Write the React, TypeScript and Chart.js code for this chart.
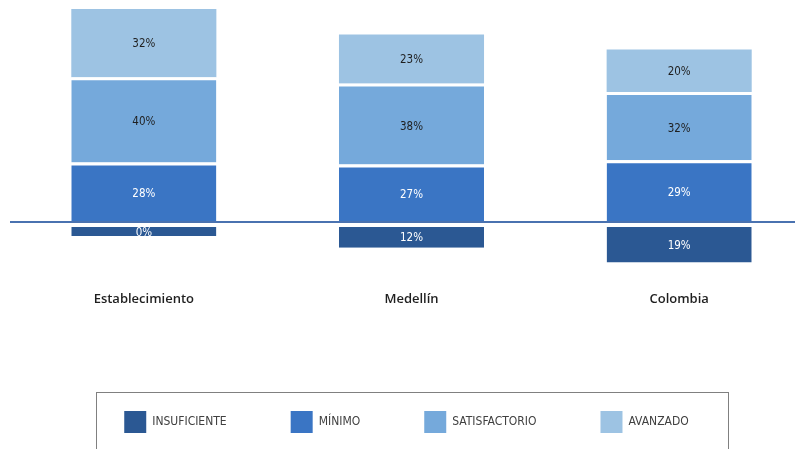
import React, { useEffect, useRef } from "react";
import { Chart, registerables } from "chart.js";

Chart.register(...registerables);

const categories = ["Establecimiento", "Medellín", "Colombia"];
const seriesNames = ["INSUFICIENTE", "MÍNIMO", "SATISFACTORIO", "AVANZADO"];
const insuficiente = [0.4, 12, 19];
const minimo = [28, 27, 29];
const satisfactorio = [40, 38, 32];
const avanzado = [32, 23, 20];
const seriesColors = ["#2B5893", "#3A75C4", "#75A9DB", "#9DC3E3"];
const labelColors = ["#FFFFFF", "#FFFFFF", "#1F1F1F", "#1F1F1F"];
const borderWidths = [
  { top: 4, bottom: 0, left: 0, right: 0 },
  { top: 3, bottom: 0, left: 0, right: 0 },
  { top: 3, bottom: 0, left: 0, right: 0 },
  { top: 0, bottom: 0, left: 0, right: 0 },
];

const COND = "'DejaVu Sans Condensed', 'DejaVu Sans', sans-serif";

const dataLabelPlugin = {
  id: "dataLabels",
  afterDatasetsDraw(chart: any) {
    const ctx = chart.ctx;
    ctx.save();
    ctx.font = `11.5px ${COND}`;
    ctx.textAlign = "center";
    ctx.textBaseline = "middle";
    chart.data.datasets.forEach((ds: any, di: number) => {
      const meta = chart.getDatasetMeta(di);
      meta.data.forEach((el: any, i: number) => {
        const { x, y, base } = el.getProps(["x", "y", "base"], true);
        const bw = borderWidths[di];
        const top = Math.min(y, base) + bw.top;
        const bottom = Math.max(y, base) - bw.bottom;
        const v = Math.round(Math.abs(ds.data[i]));
        ctx.fillStyle = labelColors[di];
        ctx.fillText(`${v}%`, x, (top + bottom) / 2 + 1);
      });
    });
    ctx.restore();
  },
};

const legendBoxPlugin = {
  id: "legendBox",
  afterLayout(chart: any) {
    if (chart.legend) {
      chart.legend.left -= 5;
      chart.legend.right -= 5;
    }
  },
  afterDraw(chart: any) {
    const ctx = chart.ctx;
    ctx.save();
    ctx.strokeStyle = "#808080";
    ctx.lineWidth = 1;
    ctx.strokeRect(88.5, 384.5, 632, 120);
    ctx.restore();
  },
};

export default function App() {
  const ref = useRef<HTMLCanvasElement>(null);
  useEffect(() => {
    if (!ref.current) return;
    const values = [insuficiente.map((v) => -v), minimo, satisfactorio, avanzado];
    const chart = new Chart(ref.current, {
      type: "bar",
      data: {
        labels: categories,
        datasets: values.map((d, i) => ({
          label: seriesNames[i],
          data: d,
          backgroundColor: seriesColors[i],
          borderColor: "#FFFFFF",
          borderWidth: borderWidths[i],
          borderSkipped: false,
          minBarLength: i === 0 ? 14 : 0,
          barPercentage: 0.542,
          categoryPercentage: 1,
        })),
      },
      options: {
        responsive: false,
        animation: false,
        layout: { padding: { top: 1, bottom: 6, left: 2, right: 0 } },
        plugins: {
          tooltip: { enabled: false },
          legend: {
            position: "bottom",
            labels: {
              boxWidth: 22,
              boxHeight: 22,
              padding: 64,
              color: "#404040",
              font: { family: COND, size: 12 },
              generateLabels: (chart: any) =>
                chart.data.datasets.map((ds: any, i: number) => ({
                  text: ds.label,
                  fillStyle: seriesColors[i],
                  strokeStyle: seriesColors[i],
                  lineWidth: 0,
                  hidden: false,
                  datasetIndex: i,
                  fontColor: "#404040",
                })),
            },
          },
        },
        scales: {
          x: {
            stacked: true,
            grid: { display: false, drawTicks: false },
            border: { display: false },
            ticks: {
              padding: 5,
              color: "#1F1F1F",
              font: { family: "'Open Sans', sans-serif", size: 13, weight: "600" },
            },
            afterFit: (s: any) => {
              s.height = 61;
            },
          },
          y: {
            stacked: true,
            min: -30,
            max: 100,
            ticks: { display: false, stepSize: 10 },
            border: { display: false },
            grid: {
              drawTicks: false,
              lineWidth: 2,
              color: (c: any) => (c.tick && c.tick.value === 0 ? "#4A72B0" : "rgba(0,0,0,0)"),
            },
            afterFit: (s: any) => {
              s.width = 0;
            },
          },
        },
      },
      plugins: [dataLabelPlugin, legendBoxPlugin],
    });
    return () => chart.destroy();
  }, []);
  return (
    <div style={{ width: 795, height: 441, overflow: "hidden" }}>
      <canvas ref={ref} width={805} height={441} style={{ display: "block" }} />
    </div>
  );
}
